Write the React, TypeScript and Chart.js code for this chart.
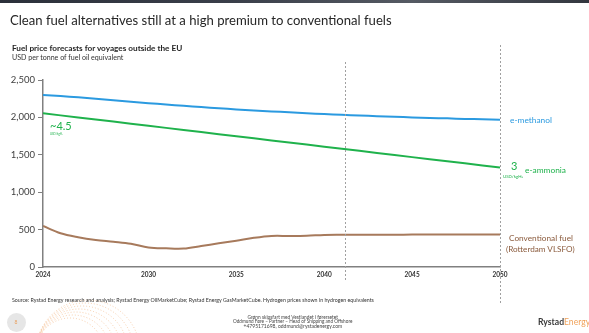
import React, { useEffect, useRef } from "react";
import { Chart, registerables } from "chart.js";
Chart.register(...registerables);

const years = [2024, 2025, 2026, 2027, 2028, 2029, 2030, 2031, 2032, 2033, 2034, 2035, 2036, 2037, 2038, 2039, 2040, 2041, 2042, 2043, 2044, 2045, 2046, 2047, 2048, 2049, 2050];
const xTickYears = [2024, 2030, 2035, 2040, 2045, 2050];
const yTickValues = [0, 500, 1000, 1500, 2000, 2500];
const guideYears = [2041.2, 2050];
const eMethanol = [2300, 2285, 2268, 2250, 2230, 2210, 2190, 2172, 2155, 2138, 2122, 2107, 2093, 2080, 2068, 2056, 2045, 2035, 2025, 2016, 2008, 2000, 1993, 1987, 1980, 1975, 1968];
const eAmmonia = [2055, 2027, 2000, 1972, 1944, 1916, 1888, 1860, 1832, 1804, 1776, 1748, 1720, 1692, 1664, 1637, 1609, 1581, 1553, 1525, 1497, 1469, 1441, 1413, 1386, 1358, 1330];
const conventional = [549, 451, 398, 362, 339, 312, 262, 250, 247, 281, 317, 352, 390, 415, 415, 418, 428, 430, 431, 432, 432, 433, 433, 434, 434, 435, 436];

const FONT = "Lato, 'Open Sans', sans-serif";
const BLUE = "#2b9ae0";
const GREEN = "#1fb24c";
const BROWN = "#a77a5c";

const measureCanvas = typeof document !== "undefined" ? document.createElement("canvas") : null;
function fitSize(text: string, weight: string, width: number): number {
  if (!measureCanvas) return 10;
  const ctx = measureCanvas.getContext("2d")!;
  ctx.font = `${weight} 100px Lato`;
  const w = ctx.measureText(text).width;
  return (width / w) * 100;
}

type TProps = { text: string; x: number; cy: number; w?: number; size?: number; weight?: string; color?: string; center?: boolean };
function T({ text, x, cy, w, size, weight = "normal", color = "#222", center = false }: TProps) {
  const fs = w ? fitSize(text, weight, w) : size || 10;
  return (
    <div
      style={{
        position: "absolute",
        left: center ? x - (w || 0) / 2 : x,
        top: cy - fs * 0.6,
        fontSize: fs,
        lineHeight: `${fs * 1.2}px`,
        fontFamily: FONT,
        fontWeight: weight as any,
        color,
        whiteSpace: "nowrap",
      }}
    >
      {text}
    </div>
  );
}

export default function App() {
  const ref = useRef<HTMLCanvasElement>(null);
  useEffect(() => {
    const guidePlugin = {
      id: "guides",
      beforeDraw(chart: any) {
        const ctx = chart.ctx;
        ctx.save();
        ctx.strokeStyle = "rgba(240,170,110,0.55)";
        ctx.lineWidth = 1;
        ctx.setLineDash([1, 2]);
        for (let i = 0; i < 7; i++) {
          ctx.beginPath();
          ctx.arc(70 + i * 3, 352, 34 + i * 3, Math.PI * 1.05, Math.PI * 1.95);
          ctx.stroke();
        }
        ctx.restore();
      },
      afterDraw(chart: any) {
        const ctx = chart.ctx;
        const xs = chart.scales.x;
        ctx.save();
        ctx.strokeStyle = "#a0a0a0";
        ctx.lineWidth = 1;
        ctx.setLineDash([2, 2]);
        const ext = [[62, 282], [45, 304]];
        guideYears.forEach((g, i) => {
          const px = Math.round(xs.getPixelForValue(g)) + 0.5;
          ctx.beginPath();
          ctx.moveTo(px, ext[i][0]);
          ctx.lineTo(px, ext[i][1]);
          ctx.stroke();
        });
        ctx.restore();
      },
    };
    const mk = (arr: number[]) => arr.map((v, i) => ({ x: years[i], y: v }));
    const chart = new Chart(ref.current!, {
      type: "line",
      data: {
        datasets: [
          { label: "e-methanol", data: mk(eMethanol), borderColor: BLUE, borderWidth: 2, pointRadius: 0, tension: 0.2 },
          { label: "e-ammonia", data: mk(eAmmonia), borderColor: GREEN, borderWidth: 2, pointRadius: 0, tension: 0 },
          { label: "Conventional fuel", data: mk(conventional), borderColor: BROWN, borderWidth: 2, pointRadius: 0, tension: 0.35 },
        ],
      },
      options: {
        responsive: false,
        animation: false,
        layout: { padding: { left: 0, right: 89, top: 80, bottom: 0 } },
        plugins: { legend: { display: false }, tooltip: { enabled: false } },
        scales: {
          x: {
            type: "linear",
            min: 2024,
            max: 2050,
            afterBuildTicks: (axis: any) => {
              axis.ticks = xTickYears.map((v) => ({ value: v }));
            },
            afterFit: (s: any) => {
              s.height = 66;
            },
            ticks: {
              autoSkip: false,
              maxRotation: 0,
              padding: 4,
              color: "#333",
              font: { family: FONT, size: 6.5, weight: "bold" },
              callback: (v: any) => String(v),
            },
            grid: { display: true, drawOnChartArea: false, drawTicks: false },
            border: { display: true, color: "#808080", width: 1.5 },
          },
          y: {
            min: 0,
            max: 2500,
            afterBuildTicks: (axis: any) => {
              axis.ticks = yTickValues.map((v) => ({ value: v }));
            },
            afterFit: (s: any) => {
              s.width = 43;
            },
            ticks: {
              padding: 3,
              color: "#404040",
              font: { family: FONT, size: 9.5 },
              callback: (v: any) => Number(v).toLocaleString("en-US"),
            },
            grid: { display: true, drawOnChartArea: false, drawTicks: true, tickLength: 5, color: "#808080" },
            border: { display: true, color: "#808080", width: 1.5 },
          },
        },
      },
      plugins: [guidePlugin],
    } as any);
    return () => chart.destroy();
  }, []);

  return (
    <div style={{ position: "fixed", left: 0, top: 0, width: 589, height: 333, background: "#fff", overflow: "hidden" }}>
      <div style={{ position: "absolute", left: 0, top: 0, width: 589, height: 3, background: "linear-gradient(90deg,#2b303a,#3a3f4a 40%,#555a63 70%,#33373f)" }} />
      <canvas ref={ref} width={589} height={333} style={{ position: "absolute", left: 0, top: 0 }} />
      <T text="Clean fuel alternatives still at a high premium to conventional fuels" x={10} cy={21} w={382} color="#262626" />
      <T text="Fuel price forecasts for voyages outside the EU" x={12} cy={49} w={171} weight="bold" color="#262626" />
      <T text="USD per tonne of fuel oil equivalent" x={12} cy={58} w={112} color="#333" />

      <T text="e-methanol" x={510} cy={120} w={42} color={BLUE} />
      <T text="3" x={511} cy={166} size={11} color={GREEN} />
      <T text="USD/kgH₂" x={503} cy={176.5} w={20} color={GREEN} />
      <T text="e-ammonia" x={525} cy={170} w={41} color={GREEN} />
      <T text="Conventional fuel" x={509} cy={239} w={64} color="#8a5a3c" />
      <T text="(Rotterdam VLSFO)" x={506} cy={250} w={69} color="#8a5a3c" />
      <T text="~4.5" x={50} cy={126} size={11} color={GREEN} />
      <T text="USD/kgH₂" x={50} cy={135} w={13} color={GREEN} />

      <T text="Source: Rystad Energy research and analysis; Rystad Energy OilMarketCube; Rystad Energy GasMarketCube. Hydrogen prices shown in hydrogen equivalents" x={12} cy={300} w={363} color="#333" />

      <T text="Grønn skipsfart med Vestlandet i førersetet" x={293} cy={317.7} w={91} center color="#444" />
      <T text="Oddmund Føre – Partner – Head of Shipping and Offshore" x={293} cy={321.7} w={120} center color="#444" />
      <T text="+4795171698, oddmund@rystadenergy.com" x={293} cy={325.7} w={99} center color="#444" />

      <div style={{ position: "absolute", left: 6.5, top: 312.5, width: 19, height: 19, borderRadius: "50%", background: "#e6e6e6" }} />
      <T text="8" x={14.5} cy={322} size={5} color="#e9a060" />

      <div style={{ position: "absolute", left: 538, top: 316, fontFamily: FONT, fontSize: 8.6, fontWeight: "bold", lineHeight: "12px", whiteSpace: "nowrap" }}>
        <span style={{ color: "#3a3a3a" }}>Rystad</span>
        <span style={{ color: "#f0a25a", fontWeight: "normal" }}>Energy</span>
      </div>
    </div>
  );
}
